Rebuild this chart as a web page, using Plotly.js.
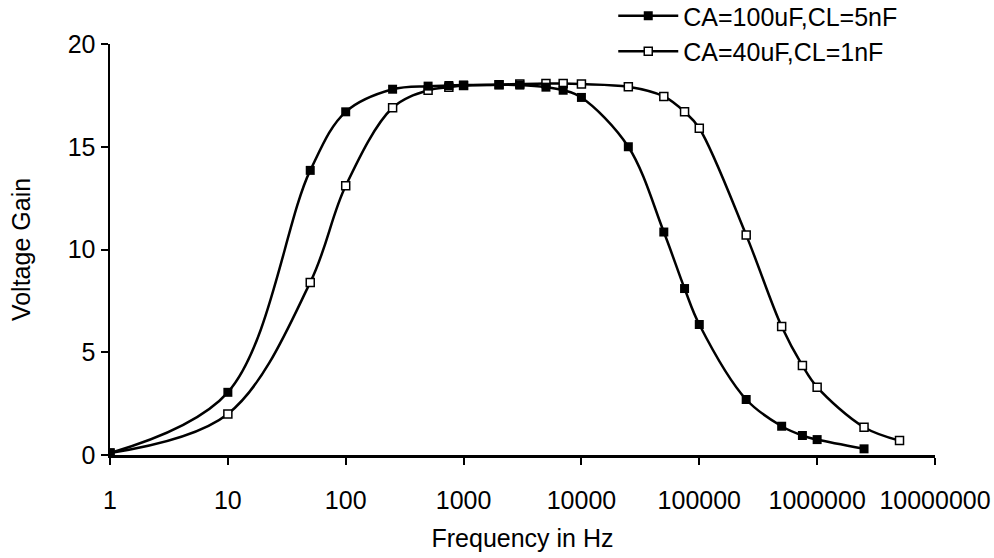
<!DOCTYPE html>
<html>
<head>
<meta charset="utf-8">
<script src="https://cdn.plot.ly/plotly-3.0.1.min.js"></script>
<style>html,body{margin:0;padding:0;background:#fff;}#chart{width:994px;height:558px;}</style>
</head>
<body>
<div id="chart"></div>
<script>
// Series A: CA=100uF, CL=5nF (filled squares)
const freqA = [1, 10, 50, 100, 250, 500, 750, 1000, 2000, 3000, 5000, 7000, 10000, 25000, 50000, 75000, 100000, 250000, 500000, 750000, 1000000, 2500000];
const gainA = [0.1, 3.05, 13.85, 16.7, 17.8, 17.95, 17.98, 18.0, 18.02, 18.0, 17.9, 17.75, 17.4, 15.0, 10.85, 8.1, 6.35, 2.7, 1.4, 0.95, 0.75, 0.3];
// Series B: CA=40uF, CL=1nF (open squares)
const freqB = [1, 10, 50, 100, 250, 500, 750, 1000, 2000, 3000, 5000, 7000, 10000, 25000, 50000, 75000, 100000, 250000, 500000, 750000, 1000000, 2500000, 5000000];
const gainB = [0.1, 2.0, 8.4, 13.1, 16.9, 17.75, 17.9, 17.98, 18.02, 18.05, 18.08, 18.08, 18.05, 17.92, 17.45, 16.7, 15.9, 10.7, 6.25, 4.35, 3.3, 1.35, 0.7];
const nameA = 'CA=100uF,CL=5nF';
const nameB = 'CA=40uF,CL=1nF';
const xTickVals = [1, 10, 100, 1000, 10000, 100000, 1000000, 10000000];
const xTickText = ['1', '10', '100', '1000', '10000', '100000', '1000000', '10000000'];
const yTickVals = [0, 5, 10, 15, 20];

const FONT = 'Liberation Sans, Arial, sans-serif';
const FS = 25;

const traces = [
  {
    x: freqB, y: gainB, name: nameB, type: 'scatter', mode: 'lines+markers',
    line: {color: '#000', width: 2.5, shape: 'spline', smoothing: 1},
    marker: {symbol: 'square', size: 8, color: '#fff', line: {color: '#000', width: 1.5}},
    legendrank: 2
  },
  {
    x: freqA, y: gainA, name: nameA, type: 'scatter', mode: 'lines+markers',
    line: {color: '#000', width: 2.5, shape: 'spline', smoothing: 1},
    marker: {symbol: 'square', size: 9, color: '#000', line: {color: '#000', width: 0}},
    legendrank: 1
  }
];

const layout = {
  width: 994, height: 558,
  margin: {l: 110, r: 59, t: 44, b: 103, autoexpand: false},
  paper_bgcolor: '#fff', plot_bgcolor: '#fff',
  font: {family: FONT, size: FS, color: '#000'},
  showlegend: true,
  legend: {
    x: 0.61, xanchor: 'left', y: 1.124, yanchor: 'top',
    bgcolor: 'rgba(0,0,0,0)', font: {family: FONT, size: FS, color: '#000'},
    itemwidth: 60, tracegroupgap: 0
  },
  xaxis: {
    type: 'log', range: [0, 7],
    tickvals: xTickVals, ticktext: xTickText,
    showgrid: false, zeroline: false,
    showline: true, linecolor: '#000', linewidth: 2.5,
    ticks: 'outside', ticklen: 7, tickwidth: 2, tickcolor: '#000',
    ticklabelstandoff: 14,
    tickfont: {family: FONT, size: FS, color: '#000'},
    title: {text: 'Frequency in Hz', font: {family: FONT, size: FS, color: '#000'}, standoff: 17}
  },
  yaxis: {
    range: [0, 20], tickvals: yTickVals,
    showgrid: false, zeroline: false,
    showline: true, linecolor: '#000', linewidth: 2.5,
    ticks: 'outside', ticklen: 7, tickwidth: 2, tickcolor: '#000',
    tickfont: {family: FONT, size: FS, color: '#000'},
    title: {text: 'Voltage Gain', font: {family: FONT, size: FS, color: '#000'}, standoff: 30}
  }
};

Plotly.newPlot('chart', traces, layout, {displayModeBar: false, staticPlot: true});
</script>
</body>
</html>
